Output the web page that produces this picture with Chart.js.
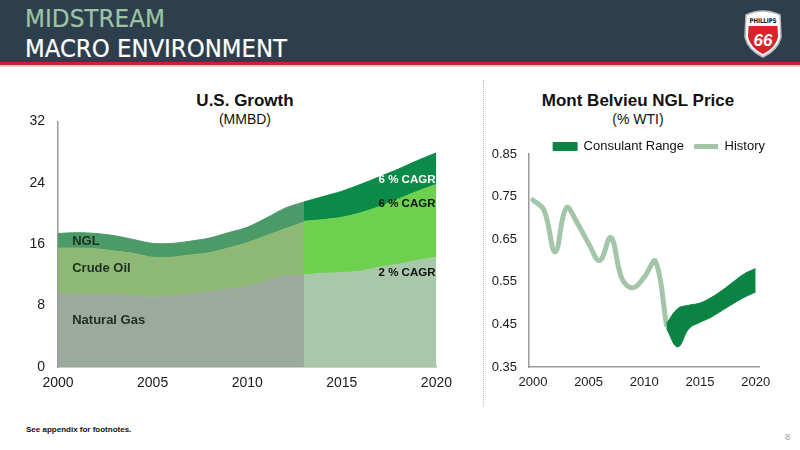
<!DOCTYPE html>
<html>
<head>
<meta charset="utf-8">
<script src="https://cdn.jsdelivr.net/npm/chart.js@4.4.1/dist/chart.umd.min.js"></script>
<style>
  body { margin: 0; width: 800px; height: 450px; position: relative; overflow: hidden; background: #fff; font-family: "Liberation Sans", Arial, sans-serif; }
  .abs { position: absolute; }
  .ttl { position: absolute; text-align: center; font-weight: bold; font-size: 17px; line-height: 17px; color: #111; }
  .sub { position: absolute; text-align: center; font-size: 14px; line-height: 14px; color: #111; }
</style>
</head>
<body>
<svg class="abs" style="left:0;top:0" width="800" height="68">
  <rect x="0" y="0" width="800" height="62" fill="#2d3e4c"/>
  <rect x="0" y="62" width="800" height="3" fill="#c3262d"/>
  <rect x="0" y="65" width="800" height="2" fill="#f2c9cb"/>
  <text x="25" y="27" font-family="Liberation Sans Narrow, DejaVu Sans Condensed, sans-serif" font-size="25" fill="#9cc4a4" stroke="#9cc4a4" stroke-width="0.2" textLength="140" lengthAdjust="spacingAndGlyphs">MIDSTREAM</text>
  <text x="25" y="57" font-family="Liberation Sans Narrow, DejaVu Sans Condensed, sans-serif" font-size="25" fill="#ffffff" stroke="#ffffff" stroke-width="0.2" textLength="262" lengthAdjust="spacingAndGlyphs">MACRO ENVIRONMENT</text>
  <path d="M746 15 Q763 7 780 15 L781 37 Q778 50 763 57 Q748 50 745 37 Z" fill="#ffffff" stroke="#b8b8b8" stroke-width="1.5"/>
  <path d="M748.5 26 L777.5 26 L778 37 Q775.5 48 763 54 Q750.5 48 748 37 Z" fill="#d8232a"/>
  <text x="763" y="23" text-anchor="middle" font-family="Liberation Sans Narrow, DejaVu Sans Condensed, sans-serif" font-weight="bold" font-size="6.5" fill="#111" textLength="27" lengthAdjust="spacingAndGlyphs">PHILLIPS</text>
  <text x="763" y="46" text-anchor="middle" font-family="Liberation Sans, Arial, sans-serif" font-weight="bold" font-style="italic" font-size="17" fill="#ffffff">66</text>
</svg>

<div class="ttl" style="left:145px;width:200px;top:92px">U.S. Growth</div>
<div class="sub" style="left:145px;width:200px;top:112px">(MMBD)</div>
<div class="ttl" style="left:528px;width:220px;top:92px">Mont Belvieu NGL Price</div>
<div class="sub" style="left:528px;width:220px;top:112px">(% WTI)</div>

<div class="abs" style="left:483px;top:80px;height:326px;border-left:1px dotted #b5b5b5"></div>

<div class="abs" style="left:0;top:100px;width:460px;height:300px"><canvas id="growthChart"></canvas></div>
<div class="abs" style="left:480px;top:120px;width:320px;height:280px"><canvas id="priceChart"></canvas></div>

<div class="abs" style="left:26px;top:425px;font-size:8px;font-weight:bold;color:#111">See appendix for footnotes.</div>
<div class="abs" style="left:785px;top:432px;font-size:9px;color:#999">8</div>

<script>
// U.S. growth (MMBD), history 2000-2013 and outlook 2013-2020
var growthYears = [2000, 2001, 2002, 2003, 2004, 2005, 2006, 2007, 2008, 2009, 2010, 2011, 2012, 2013];
var gasHist = [9.6, 9.5, 9.5, 9.5, 9.3, 9.1, 9.2, 9.5, 9.8, 10.2, 10.5, 11.2, 11.9, 11.9];
var crudeHist = [5.9, 6.0, 5.9, 5.6, 5.5, 5.2, 5.1, 5.1, 5.1, 5.3, 5.7, 5.9, 6.1, 7.0];
var nglHist = [1.9, 2.0, 2.0, 2.0, 1.8, 1.8, 1.8, 1.8, 1.9, 2.0, 2.0, 2.3, 2.7, 2.6];
var outlookYears = [2013, 2014, 2015, 2016, 2017, 2018, 2019, 2020];
var gasOutlook = [12.0, 12.2, 12.3, 12.5, 13.0, 13.4, 13.9, 14.3];
var crudeOutlook = [7.0, 7.0, 7.2, 7.6, 7.9, 8.5, 9.0, 9.5];
var nglOutlook = [2.5, 3.0, 3.4, 3.7, 3.9, 3.9, 4.0, 4.1];
var growthYTicks = [0, 8, 16, 24, 32];
var yearTicks = [2000, 2005, 2010, 2015, 2020];

// Mont Belvieu NGL price (% WTI)
var historyYears = [2000, 2001, 2002, 2003, 2004, 2005, 2006, 2007, 2008, 2009, 2010, 2011, 2012];
var historyPrice = [0.742, 0.718, 0.620, 0.724, 0.687, 0.640, 0.600, 0.654, 0.557, 0.536, 0.561, 0.598, 0.448];
var rangeYears = [2012, 2013, 2014, 2015, 2016, 2017, 2018, 2019, 2020];
var rangeHigh = [0.452, 0.487, 0.495, 0.500, 0.513, 0.530, 0.550, 0.569, 0.581];
var rangeLow = [0.440, 0.397, 0.440, 0.455, 0.467, 0.483, 0.499, 0.514, 0.526];
var priceYTicks = [0.35, 0.45, 0.55, 0.65, 0.75, 0.85];

Chart.defaults.font.family = "'Liberation Sans', Arial, sans-serif";
Chart.defaults.color = "#1a1a1a";

function pts(xs, ys) {
    return xs.map(function(x, i) { return {x: x, y: ys[i]}; });
}

function area(label, xs, ys, color, stack, fill) {
    return {
        label: label, data: pts(xs, ys), stack: stack, fill: fill,
        backgroundColor: color, borderColor: color, borderWidth: 1,
        pointRadius: 0, tension: 0.3
    };
}

var notesPlugin = {
    id: "notes",
    afterDatasetsDraw: function(chart, args, opts) {
        var ctx = chart.ctx, x = chart.scales.x, y = chart.scales.y;
        ctx.save();
        ctx.textBaseline = "middle";
        opts.items.forEach(function(n) {
            ctx.font = n.font;
            ctx.fillStyle = n.color;
            ctx.textAlign = n.align;
            ctx.fillText(n.text, x.getPixelForValue(n.year), y.getPixelForValue(n.value));
        });
        ctx.restore();
    }
};

// nudge the legend to the right, past the end of the plot area
var legendShift = {
    id: "legendShift",
    afterLayout: function(chart) {
        if (chart.legend) {
            chart.legend.left += 16;
            chart.legend.right += 16;
        }
    }
};

var leftFont = "bold 13px 'Liberation Sans', Arial, sans-serif";
var cagrFont = "bold 11.5px 'Liberation Sans', Arial, sans-serif";

new Chart("growthChart", {
    type: "line",
    data: {
        datasets: [
            area("Natural Gas", growthYears, gasHist, "#9caa9e", "hist", "origin"),
            area("Crude Oil", growthYears, crudeHist, "#8db974", "hist", "-1"),
            area("NGL", growthYears, nglHist, "#4b9a68", "hist", "-1"),
            area("Natural Gas outlook", outlookYears, gasOutlook, "#a9c8aa", "out", "origin"),
            area("Crude Oil outlook", outlookYears, crudeOutlook, "#6dd14f", "out", "-1"),
            area("NGL outlook", outlookYears, nglOutlook, "#0c8a48", "out", "-1")
        ]
    },
    options: {
        responsive: true,
        maintainAspectRatio: false,
        animation: false,
        layout: {padding: {top: 20, right: 22, left: 0, bottom: 0}},
        plugins: {
            legend: {display: false},
            tooltip: {enabled: false},
            notes: {items: [
                {text: "NGL", year: 2000.75, value: 16.3, color: "#1f2e1f", align: "left", font: leftFont},
                {text: "Crude Oil", year: 2000.75, value: 12.8, color: "#1f2e1f", align: "left", font: leftFont},
                {text: "Natural Gas", year: 2000.75, value: 6.05, color: "#1f2e1f", align: "left", font: leftFont},
                {text: "6 % CAGR", year: 2019.95, value: 24.4, color: "#ffffff", align: "right", font: cagrFont},
                {text: "6 % CAGR", year: 2019.95, value: 21.2, color: "#111111", align: "right", font: cagrFont},
                {text: "2 % CAGR", year: 2019.95, value: 12.3, color: "#111111", align: "right", font: cagrFont}
            ]}
        },
        scales: {
            x: {
                type: "linear", min: 2000, max: 2020,
                grid: {display: false, drawTicks: false},
                border: {display: true, color: "#9a9a9a", width: 1.5},
                afterBuildTicks: function(s) { s.ticks = yearTicks.map(function(v) { return {value: v}; }); },
                afterFit: function(s) { s.height = 33; },
                ticks: {padding: 8, font: {size: 14}, callback: function(v) { return String(v); }}
            },
            y: {
                stacked: true, min: 0, max: 32,
                grid: {display: false, drawTicks: false},
                border: {display: true, color: "#9a9a9a", width: 1.5},
                afterBuildTicks: function(s) { s.ticks = growthYTicks.map(function(v) { return {value: v}; }); },
                afterFit: function(s) { s.width = 58; },
                ticks: {padding: 13, font: {size: 14}}
            }
        }
    },
    plugins: [notesPlugin]
});

new Chart("priceChart", {
    type: "line",
    data: {
        datasets: [
            {
                label: "Consulant Range", data: pts(rangeYears, rangeHigh), fill: "+1",
                backgroundColor: "#0b8443", borderColor: "#0b8443", borderWidth: 1,
                pointRadius: 0, pointStyle: "rect", tension: 0.4
            },
            {
                label: "low", data: pts(rangeYears, rangeLow), fill: false,
                backgroundColor: "#0b8443", borderColor: "#0b8443", borderWidth: 1,
                pointRadius: 0, tension: 0.4
            },
            {
                label: "History", data: pts(historyYears, historyPrice), fill: false,
                borderColor: "#a3c6ab", backgroundColor: "#a3c6ab", borderWidth: 5,
                pointRadius: 0, pointStyle: "line", tension: 0.4, borderCapStyle: "round"
            }
        ]
    },
    options: {
        responsive: true,
        maintainAspectRatio: false,
        animation: false,
        layout: {padding: {top: 10, right: 41, left: 0, bottom: 0}},
        plugins: {
            tooltip: {enabled: false},
            legend: {
                align: "end",
                maxHeight: 24,
                labels: {
                    usePointStyle: true, pointStyleWidth: 24, boxHeight: 8,
                    padding: 10, color: "#111", font: {size: 13},
                    filter: function(item) { return item.text !== "low"; }
                }
            }
        },
        scales: {
            x: {
                type: "linear", min: 1999.65, max: 2020.3,
                grid: {display: false, drawTicks: false},
                border: {display: true, color: "#9a9a9a", width: 1.5},
                afterBuildTicks: function(s) { s.ticks = yearTicks.map(function(v) { return {value: v}; }); },
                afterFit: function(s) { s.height = 33; },
                ticks: {padding: 8, font: {size: 13}, callback: function(v) { return String(v); }}
            },
            y: {
                min: 0.35, max: 0.85,
                grid: {display: false, drawTicks: false},
                border: {display: true, color: "#9a9a9a", width: 1.5},
                afterBuildTicks: function(s) { s.ticks = priceYTicks.map(function(v) { return {value: v}; }); },
                afterFit: function(s) { s.width = 49; },
                ticks: {padding: 12, font: {size: 13}, callback: function(v) { return v.toFixed(2); }}
            }
        }
    },
    plugins: [legendShift]
});
</script>
</body>
</html>
